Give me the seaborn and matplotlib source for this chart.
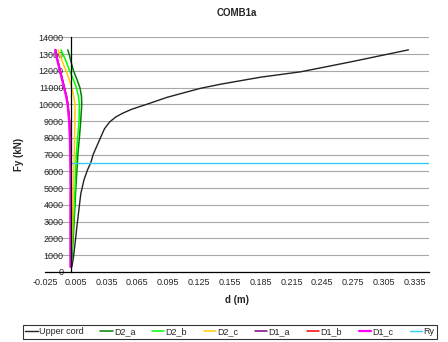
import matplotlib
matplotlib.use("Agg")
import matplotlib.pyplot as plt
import numpy as np
import seaborn as sns

# data
upper_d = [0.0012, 0.0027, 0.0045, 0.006, 0.008, 0.0099, 0.013, 0.0165, 0.0196, 0.022,
           0.029, 0.033, 0.038, 0.044, 0.051, 0.060, 0.074, 0.094, 0.126, 0.146,
           0.185, 0.224, 0.273, 0.329]
upper_f = [300, 880, 1800, 2670, 3700, 4670, 5500, 6100, 6520, 7020,
           8000, 8550, 8950, 9250, 9480, 9720, 10000, 10420, 10950, 11200,
           11620, 11940, 12535, 13250]

d_force = [300, 2000, 4000, 5000, 6000, 7000, 8000, 9000, 10000, 10500,
           11000, 11500, 12000, 12500, 13000, 13250]
d2_a = [0.0005, 0.0025, 0.0042, 0.005, 0.006, 0.007, 0.0085, 0.0098, 0.0108, 0.0105,
        0.009, 0.006, 0.0028, 0.0005, -0.0015, -0.0028]
d2_b = [0.0003, 0.002, 0.0036, 0.0043, 0.0048, 0.0055, 0.0068, 0.0082, 0.0085, 0.0075,
        0.0055, 0.0025, -0.001, -0.004, -0.0075, -0.0094]
d2_c = [0.0, 0.0012, 0.0022, 0.0027, 0.003, 0.0035, 0.0038, 0.0042, 0.0042, 0.003,
        0.001, -0.0015, -0.0045, -0.0078, -0.0108, -0.012]
d1_a = [0.0, 0.0, 0.0, 0.0001, 0.0002, 0.0, -0.0004, -0.001, -0.0025, -0.004,
        -0.006, -0.008, -0.010, -0.012, -0.014, -0.0145]
d1_b = [-0.0001, -0.0001, -0.0001, 0.0, 0.0, -0.0002, -0.0006, -0.0012, -0.0028, -0.0042,
        -0.0062, -0.0082, -0.0102, -0.0122, -0.0142, -0.0148]
d1_c = [-0.0001, -0.0001, -0.0001, -0.0001, -0.0002, -0.0004, -0.0008, -0.0015, -0.003, -0.0045,
        -0.0065, -0.0085, -0.0105, -0.0125, -0.0145, -0.015]
ry_d = [0.0, 0.349]
ry_f = [6520, 6520]

x_ticks = [-0.025, 0.005, 0.035, 0.065, 0.095, 0.125, 0.155, 0.185,
           0.215, 0.245, 0.275, 0.305, 0.335]
y_ticks = list(range(0, 14001, 1000))

sns.set_style("white")
plt.rcParams["font.family"] = ["Liberation Sans", "DejaVu Sans"]

fig = plt.figure(figsize=(4.48, 3.42), dpi=100)
ax = fig.add_axes([0.1004, 0.2047, 0.8572, 0.6863])

series = [
    ("Upper cord", upper_d, upper_f, "#222222", 1.0),
    ("D2_a", d2_a, d_force, "#008000", 1.1),
    ("D2_b", d2_b, d_force, "#00ff00", 1.1),
    ("D2_c", d2_c, d_force, "#ffcc00", 1.1),
    ("D1_a", d1_a, d_force, "#800080", 1.1),
    ("D1_b", d1_b, d_force, "#ff0000", 1.1),
    ("D1_c", d1_c, d_force, "#ff00ff", 1.6),
    ("Ry", ry_d, ry_f, "#33ccff", 1.0),
]
for name, xs, ys, color, lw in series:
    sns.lineplot(x=xs, y=ys, color=color, lw=lw, sort=False, estimator=None,
                 label=name, ax=ax, legend=False)

ax.set_xlim(-0.025, 0.349)
ax.set_ylim(0, 14000)
ax.set_xticks(x_ticks)
ax.set_xticklabels([f"{t:.3f}" for t in x_ticks])
ax.set_yticks(y_ticks)
ax.yaxis.grid(True, color="#a8a8a8", lw=0.8)
ax.set_axisbelow(True)

for side in ["top", "right"]:
    ax.spines[side].set_visible(False)
ax.spines["left"].set_position(("data", 0))
ax.spines["left"].set_color("black")
ax.spines["bottom"].set_color("black")
ax.spines["left"].set_linewidth(0.9)
ax.spines["bottom"].set_linewidth(0.9)
ax.tick_params(axis="both", labelsize=6.5, length=3, width=0.8, color="black", pad=2)
ax.tick_params(axis="x", direction="inout", length=4)

ax.set_title("COMB1a", fontsize=7, fontweight="bold", pad=15)
ax.set_xlabel("d (m)", fontsize=7, fontweight="bold", labelpad=6)
ax.set_ylabel("Fy (kN)", fontsize=7, fontweight="bold")
ax.yaxis.set_label_coords(-0.055, 0.5)

handles, labels = ax.get_legend_handles_labels()
leg = fig.legend(handles, labels, loc="center", bbox_to_anchor=(0.513, 0.03), ncol=8,
                 fontsize=6.5, frameon=True, fancybox=False, edgecolor="black",
                 handlelength=1.35, handletextpad=0.15, columnspacing=1.85,
                 borderpad=0.3, borderaxespad=0)
leg.get_frame().set_linewidth(0.8)

fig.savefig("out.png", dpi=100)
